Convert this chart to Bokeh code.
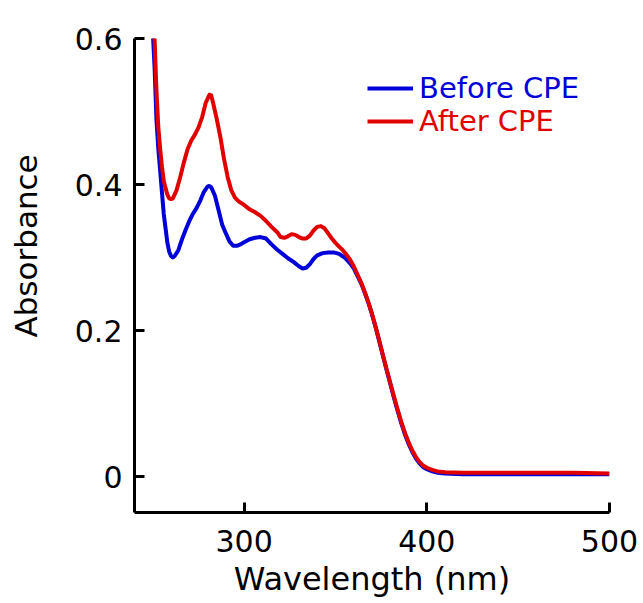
import math
from bokeh.plotting import figure
from bokeh.models import (ColumnDataSource, FixedTicker, Legend, LegendItem, Range1d)
from bokeh.embed import file_html
from bokeh.resources import INLINE

# ---- data ----
before_wl = [248, 250, 251, 252, 253, 254, 255, 256, 257, 258, 259, 260, 261, 262, 264, 266, 268,
             270, 272, 274, 276, 278, 280, 281, 282, 284, 286, 288, 290, 292, 294, 296, 298, 300,
             303, 306, 309, 312, 315, 318, 321, 324, 327, 330, 332, 334, 336, 338, 340, 343, 346,
             349, 352, 355, 358, 360, 362, 364, 366, 368, 370, 372, 374, 376, 378, 380, 382, 384,
             386, 388, 390, 392, 394, 396, 398, 400, 403, 406, 410, 420, 440, 460, 480, 500]
before_abs = [0.70, 0.61, 0.56, 0.49, 0.45, 0.42, 0.39, 0.36, 0.34, 0.32, 0.308, 0.302, 0.300, 0.302,
              0.310, 0.325, 0.338, 0.350, 0.360, 0.368, 0.378, 0.390, 0.397, 0.398, 0.396, 0.385,
              0.365, 0.345, 0.333, 0.322, 0.316, 0.316, 0.318, 0.321, 0.325, 0.327, 0.328, 0.326,
              0.318, 0.311, 0.305, 0.299, 0.294, 0.288, 0.285, 0.286, 0.291, 0.298, 0.303, 0.306,
              0.307, 0.307, 0.305, 0.300, 0.292, 0.285, 0.275, 0.265, 0.252, 0.238, 0.222, 0.204,
              0.185, 0.165, 0.146, 0.127, 0.108, 0.090, 0.073, 0.058, 0.045, 0.034, 0.025, 0.018,
              0.013, 0.010, 0.007, 0.005, 0.004, 0.003, 0.003, 0.003, 0.003, 0.003]

after_wl = [248, 250, 251, 252, 253, 254, 255, 256, 257, 258, 259, 260, 261, 263, 265, 267, 269,
            271, 273, 275, 277, 279, 281, 282, 283, 285, 287, 289, 291, 293, 295, 297, 300, 303,
            306, 309, 312, 315, 318, 320, 322, 324, 326, 328, 330, 332, 334, 336, 338, 340, 342,
            344, 346, 348, 350, 352, 354, 356, 358, 360, 362, 364, 366, 368, 370, 372, 374, 376,
            378, 380, 382, 384, 386, 388, 390, 392, 394, 396, 398, 400, 403, 406, 410, 420, 440,
            460, 480, 500]
after_abs = [0.75, 0.64, 0.60, 0.53, 0.48, 0.45, 0.425, 0.405, 0.395, 0.386, 0.381, 0.380, 0.381,
             0.392, 0.410, 0.430, 0.448, 0.460, 0.468, 0.478, 0.492, 0.512, 0.523, 0.522, 0.512,
             0.490, 0.465, 0.435, 0.410, 0.392, 0.382, 0.377, 0.372, 0.366, 0.362, 0.357, 0.350,
             0.342, 0.335, 0.328, 0.327, 0.329, 0.332, 0.331, 0.328, 0.326, 0.326, 0.330, 0.337,
             0.342, 0.343, 0.340, 0.333, 0.326, 0.320, 0.315, 0.310, 0.304, 0.297, 0.288, 0.277,
             0.266, 0.253, 0.239, 0.223, 0.205, 0.186, 0.166, 0.147, 0.128, 0.110, 0.092, 0.075,
             0.060, 0.047, 0.036, 0.027, 0.020, 0.015, 0.012, 0.009, 0.007, 0.006, 0.005, 0.005,
             0.005, 0.005, 0.004]

x_ticks = [300, 400, 500]
y_ticks = [0, 0.2, 0.4, 0.6]
y_tick_labels = ["0", "0.2", "0.4", "0.6"]
series_names = ["Before CPE", "After CPE"]
series_colors = ["#0000D8", "#E00000"]

FONT = "DejaVu Sans"

p = figure(width=643, height=603, output_backend="svg", toolbar_location=None,
           x_range=Range1d(240, 500), y_range=Range1d(-0.0493, 0.6),
           min_border_left=134, min_border_right=34, min_border_top=38, min_border_bottom=91)
p.outline_line_color = None
p.grid.visible = False
p.background_fill_color = "white"
p.border_fill_color = "white"

src_b = ColumnDataSource(dict(x=before_wl, y=before_abs))
src_a = ColumnDataSource(dict(x=after_wl, y=after_abs))
r_b = p.line("x", "y", source=src_b, line_color=series_colors[0], line_width=4, line_join="round")
r_a = p.line("x", "y", source=src_a, line_color=series_colors[1], line_width=4, line_join="round")

for ax in (p.xaxis[0], p.yaxis[0]):
    ax.axis_line_width = 3
    ax.major_tick_line_width = 3
    ax.major_tick_in = 10
    ax.major_tick_out = 0
    ax.minor_tick_line_color = None
    ax.major_label_text_font = FONT
    ax.major_label_text_font_size = "30px"
    ax.major_label_text_color = "black"
    ax.axis_line_color = "black"
    ax.major_tick_line_color = "black"
    ax.axis_label_text_font = FONT
    ax.axis_label_text_font_style = "normal"
    ax.axis_label_text_color = "black"

p.xaxis.ticker = FixedTicker(ticks=x_ticks)
p.yaxis.ticker = FixedTicker(ticks=y_ticks)
p.yaxis.major_label_overrides = {t: s for t, s in zip(y_ticks, y_tick_labels)}
p.xaxis.major_label_standoff = 17
p.yaxis.major_label_standoff = 12

p.xaxis.axis_label = "Wavelength (nm)"
p.xaxis.axis_label_text_font_size = "32px"
p.xaxis.axis_label_standoff = 5

# leading no-break spaces shift the centred label up to where the reference has it
p.yaxis.axis_label = "\u00a0" * 6 + "Absorbance"
p.yaxis.axis_label_text_font_size = "31px"
p.yaxis.axis_label_standoff = 28

for i, (name, color, rend, loc) in enumerate(zip(series_names, series_colors, [r_b, r_a],
                                                 [(233, 407), (233, 374)])):
    lg = Legend(items=[LegendItem(label=name, renderers=[rend])], location=loc,
                padding=0, margin=0, spacing=0, border_line_alpha=0, background_fill_alpha=0,
                glyph_width=46, glyph_height=20, label_height=20, label_standoff=6,
                label_text_font=FONT, label_text_font_size="29px", label_text_color=color)
    p.add_layout(lg)

open("out.html", "w").write(file_html(p, INLINE))
